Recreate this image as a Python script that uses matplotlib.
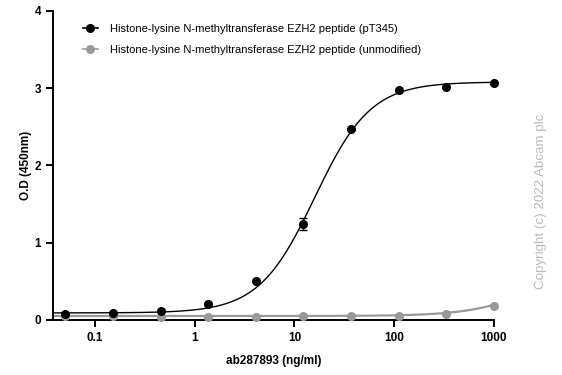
import numpy as np
import matplotlib.pyplot as plt

plt.rcParams["font.family"] = ["Liberation Sans", "DejaVu Sans"]

conc = [0.0508, 0.152, 0.457, 1.37, 4.12, 12.3, 37.0, 111.0, 333.0, 1000.0]
od_pt345 = [0.07, 0.09, 0.11, 0.21, 0.50, 1.24, 2.47, 2.98, 3.01, 3.06]
err_pt345 = [0.0, 0.0, 0.0, 0.0, 0.0, 0.08, 0.0, 0.0, 0.0, 0.0]
od_unmod = [0.05, 0.05, 0.04, 0.04, 0.04, 0.05, 0.05, 0.05, 0.08, 0.18]

# 4PL fit parameters: bottom, top, EC50, hill
fit_pt345 = (0.09, 3.08, 16.0, 1.55)
fit_unmod = (0.05, 0.80, 3000.0, 1.3)

labels = ["Histone-lysine N-methyltransferase EZH2 peptide (pT345)",
          "Histone-lysine N-methyltransferase EZH2 peptide (unmodified)"]


def four_pl(x, bottom, top, ec50, hill):
    return bottom + (top - bottom) / (1 + (ec50 / x) ** hill)


fig = plt.figure(figsize=(5.62, 3.75), dpi=100)
ax = fig.add_axes([0.094, 0.147, 0.785, 0.824])

xs = np.logspace(np.log10(0.038), 3, 300)
ax.plot(xs, four_pl(xs, *fit_unmod), color="#999999", lw=1.6, zorder=2)
ax.plot(xs, four_pl(xs, *fit_pt345), color="black", lw=1.0, zorder=3)
ax.plot(conc, od_unmod, "o", color="#999999", ms=5.5, zorder=4, clip_on=False)
ax.errorbar(conc, od_pt345, yerr=err_pt345, fmt="o", color="black", ms=5.5,
            capsize=3, elinewidth=1, capthick=1, zorder=5, clip_on=False)

# legend handles
ax.plot([], [], "-o", color="black", ms=5.5, lw=1.2, label=labels[0])
ax.plot([], [], "-o", color="#999999", ms=5.5, lw=1.2, label=labels[1])
ax.legend(loc="upper left", bbox_to_anchor=(0.045, 0.99), frameon=False,
          fontsize=8, handlelength=1.4, labelspacing=1.0, handletextpad=1.1)

ax.set_xscale("log")
ax.set_xlim(0.038, 1000)
ax.set_ylim(0, 4)
ax.set_xticks([0.1, 1, 10, 100, 1000])
ax.set_xticklabels(["0.1", "1", "10", "100", "1000"])
ax.minorticks_off()
ax.set_yticks([0, 1, 2, 3, 4])
for side in ["top", "right"]:
    ax.spines[side].set_visible(False)
for side in ["left", "bottom"]:
    ax.spines[side].set_linewidth(1.4)
ax.tick_params(width=1.4, length=5, labelsize=8.5)
for t in ax.get_xticklabels() + ax.get_yticklabels():
    t.set_fontweight("bold")

ax.set_xlabel("ab287893 (ng/ml)", fontsize=8.5, fontweight="bold", labelpad=8)
ax.set_ylabel("O.D (450nm)", fontsize=8.5, fontweight="bold", labelpad=2)

fig.text(0.962, 0.464, "Copyright (c) 2022 Abcam plc", rotation=90, color="#bbbbbb",
         fontsize=9.6, ha="center", va="center")

plt.savefig("out.png", dpi=100)
